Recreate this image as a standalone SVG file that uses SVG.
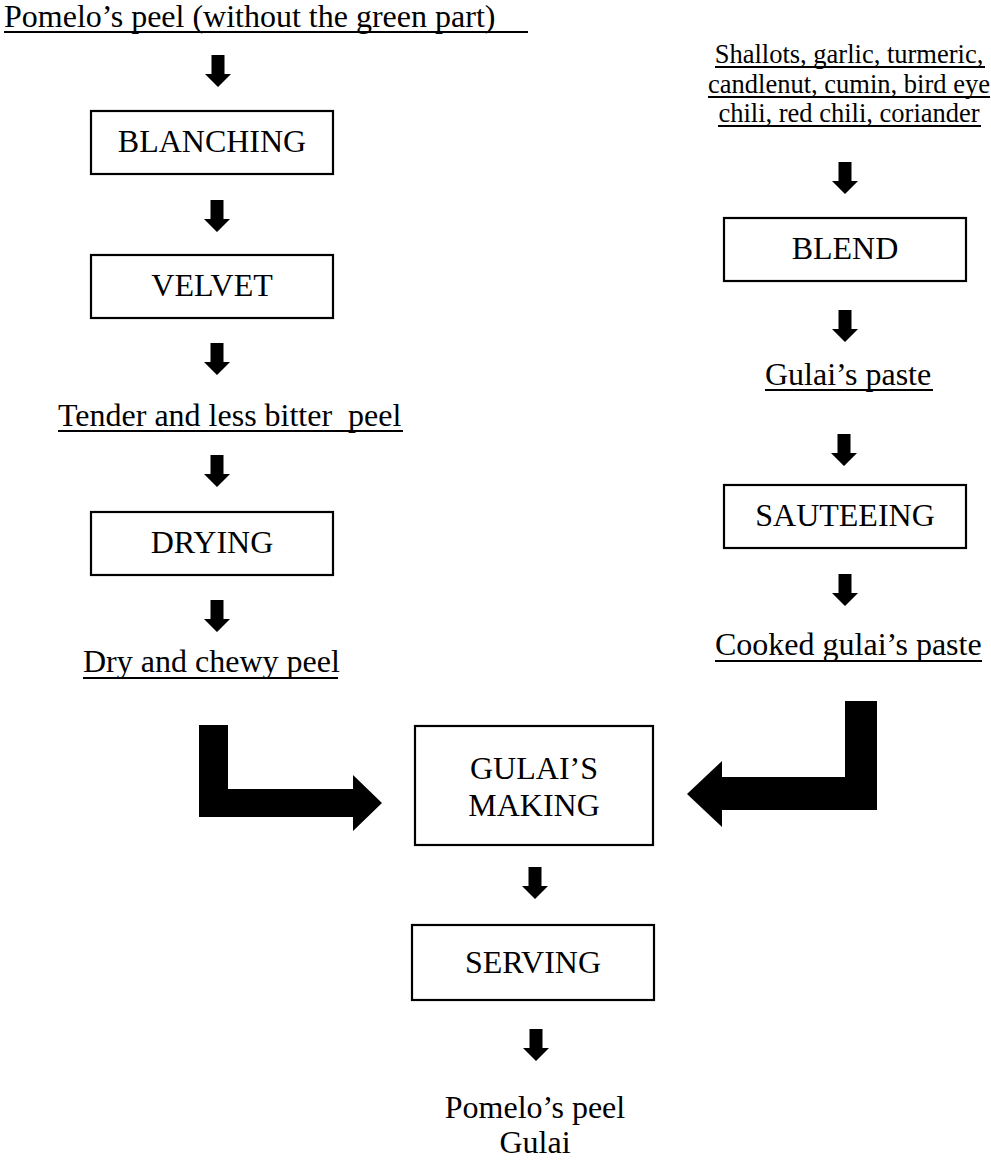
<svg xmlns="http://www.w3.org/2000/svg" xmlns:xlink="http://www.w3.org/1999/xlink" width="991" height="1163" viewBox="0 0 991 1163">
<style>
text{font-family:"Liberation Serif","Times New Roman",serif;fill:#000;white-space:pre}
.t{font-size:32px}
.s{font-size:26.5px}
.lbl{font-size:32px;text-anchor:middle}
.box{fill:#fff;stroke:#000;stroke-width:2.2}
.ul{stroke:#000;stroke-width:2}
.arr{fill:#000}
</style>
<defs>
<path id="down" d="M-6.5,0 H6.5 V19 H13 L0,32 L-13,19 H-6.5 Z"/>
</defs>
<rect width="991" height="1163" fill="#fff"/>

<g id="n-pomelo-peel">
<text class="t" x="4" y="27">Pomelo’s peel (without the green part)</text>
<line class="ul" x1="4" y1="32" x2="528" y2="32"/>
</g>
<g id="n-blanching">
<rect class="box" x="91" y="111" width="242" height="63"/>
<text class="lbl" x="212" y="152">BLANCHING</text>
</g>
<g id="n-velvet">
<rect class="box" x="91" y="255" width="242" height="63"/>
<text class="lbl" x="212" y="296">VELVET</text>
</g>
<g id="n-tender">
<text class="t" x="58" y="426">Tender and less bitter  peel</text>
<line class="ul" x1="58" y1="431" x2="403" y2="431"/>
</g>
<g id="n-drying">
<rect class="box" x="91" y="512" width="242" height="63"/>
<text class="lbl" x="212" y="553">DRYING</text>
</g>
<g id="n-dry">
<text class="t" x="83" y="672">Dry and chewy peel</text>
<line class="ul" x1="83" y1="678" x2="338" y2="678"/>
</g>

<g id="n-spices">
<text class="s" x="849" y="63" text-anchor="middle">Shallots, garlic, turmeric,</text>
<line class="ul" x1="715" y1="67" x2="985" y2="67"/>
<text class="s" x="849" y="93" text-anchor="middle">candlenut, cumin, bird eye</text>
<line class="ul" x1="708" y1="97" x2="990" y2="97"/>
<text class="s" x="849" y="122" text-anchor="middle">chili, red chili, coriander</text>
<line class="ul" x1="718" y1="126" x2="981" y2="126"/>
</g>
<g id="n-blend">
<rect class="box" x="724" y="218" width="242" height="63"/>
<text class="lbl" x="845" y="259">BLEND</text>
</g>
<g id="n-gulai-paste">
<text class="t" x="765" y="385">Gulai’s paste</text>
<line class="ul" x1="765" y1="390" x2="933" y2="390"/>
</g>
<g id="n-sauteeing">
<rect class="box" x="724" y="485" width="242" height="63"/>
<text class="lbl" x="845" y="526">SAUTEEING</text>
</g>
<g id="n-cooked">
<text class="t" x="715" y="655">Cooked gulai’s paste</text>
<line class="ul" x1="715" y1="661" x2="982" y2="661"/>
</g>

<g id="n-gulai-making">
<rect class="box" x="415" y="726" width="238" height="119"/>
<text class="lbl" x="534" y="779">GULAI’S</text>
<text class="lbl" x="534" y="816">MAKING</text>
</g>
<g id="n-serving">
<rect class="box" x="412" y="925" width="242" height="75"/>
<text class="lbl" x="533" y="973">SERVING</text>
</g>
<g id="n-result">
<text class="lbl" x="535" y="1118">Pomelo’s peel</text>
<text class="lbl" x="535" y="1153">Gulai</text>
</g>

<g id="connectors" class="arr">
<use xlink:href="#down" href="#down" transform="translate(218,55)"/>
<use xlink:href="#down" href="#down" transform="translate(217,200)"/>
<use xlink:href="#down" href="#down" transform="translate(217,343)"/>
<use xlink:href="#down" href="#down" transform="translate(217,455)"/>
<use xlink:href="#down" href="#down" transform="translate(217,600)"/>
<use xlink:href="#down" href="#down" transform="translate(845,162)"/>
<use xlink:href="#down" href="#down" transform="translate(845,310)"/>
<use xlink:href="#down" href="#down" transform="translate(844,434)"/>
<use xlink:href="#down" href="#down" transform="translate(845,574)"/>
<use xlink:href="#down" href="#down" transform="translate(535,867)"/>
<use xlink:href="#down" href="#down" transform="translate(536,1029)"/>
<polygon points="199,725 228,725 228,789 353,789 353,775 382,803 353,831 353,817 199,817"/>
<polygon points="845,701 877,701 877,810 722,810 722,827 687,794 722,761 722,777 845,777"/>
</g>
</svg>
